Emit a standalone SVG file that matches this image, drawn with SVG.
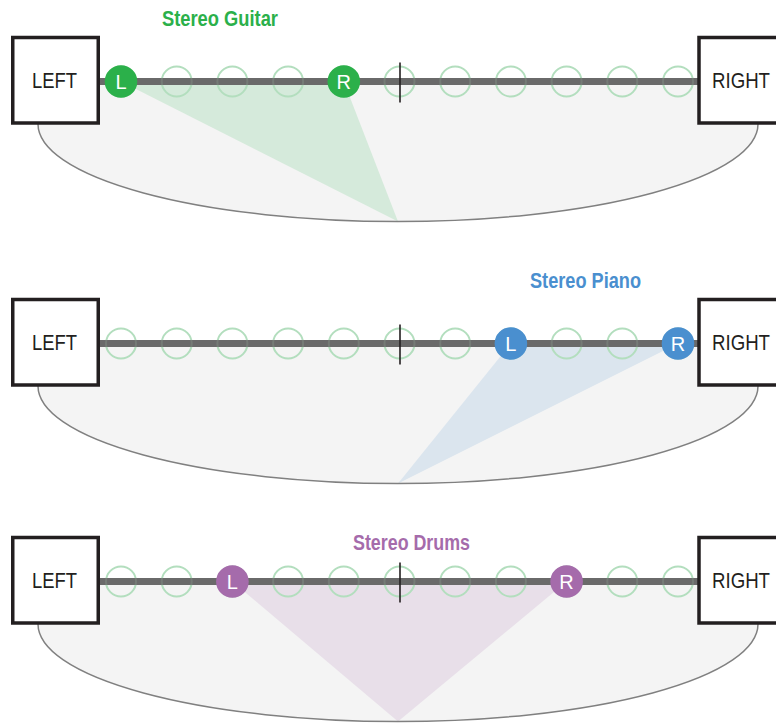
<svg xmlns="http://www.w3.org/2000/svg" xmlns:xlink="http://www.w3.org/1999/xlink" width="776" height="723" viewBox="0 0 776 723">
<style>
.bowl{fill:#f4f4f4;stroke:none}
.rim{fill:none;stroke:#808080;stroke-width:1.5}
.bar{stroke:#6a6a6a;stroke-width:7}
.slot{fill:none;stroke:#b3debe;stroke-width:2}
.tick{stroke:#231f20;stroke-width:1.6}
.box{fill:#fff;stroke:#231f20;stroke-width:3.5}
.boxtxt{font-family:"Liberation Sans",Arial,sans-serif;font-size:22px;fill:#231f20}
.title{font-family:"Liberation Sans",Arial,sans-serif;font-size:22px;font-weight:bold}
.dot{font-family:"Liberation Sans",Arial,sans-serif;font-size:20px;fill:#fff;text-anchor:middle}
.g{fill:#2bb04a}.b{fill:#4a8fcf}.p{fill:#a56bab}
</style>
<defs>
<g id="base">
<path class="bowl" d="M38,81 L758,81 L758,124 A360 97.5 0 0 1 38,124 Z"/>
</g>
<g id="rail">
<line class="bar" x1="98" y1="81.5" x2="700" y2="81.5"/>
<circle class="slot" cx="121" cy="81.5" r="15"/>
<circle class="slot" cx="176.7" cy="81.5" r="15"/>
<circle class="slot" cx="232.4" cy="81.5" r="15"/>
<circle class="slot" cx="288.1" cy="81.5" r="15"/>
<circle class="slot" cx="343.8" cy="81.5" r="15"/>
<circle class="slot" cx="399.5" cy="81.5" r="15"/>
<circle class="slot" cx="455.2" cy="81.5" r="15"/>
<circle class="slot" cx="510.9" cy="81.5" r="15"/>
<circle class="slot" cx="566.6" cy="81.5" r="15"/>
<circle class="slot" cx="622.3" cy="81.5" r="15"/>
<circle class="slot" cx="678" cy="81.5" r="15"/>
<line class="bar" x1="98" y1="81.5" x2="700" y2="81.5" stroke-opacity="0.85"/>
<line class="tick" x1="400" y1="62.5" x2="400" y2="102.5"/>
</g>
<path id="arc" class="rim" d="M38,124 A360 97.5 0 0 0 758,124"/>
</defs>

<!-- Panel 1: Stereo Guitar -->
<g id="panel-guitar">
<use xlink:href="#base"/>
<polygon points="121,81.5 343.8,81.5 398,221.5" fill="#d5eadb"/>
<use xlink:href="#arc"/>
<use xlink:href="#rail"/>
<g id="guitar-L"><circle class="g" cx="121" cy="81.5" r="16.3"/><text class="dot" x="121" y="88.8">L</text></g>
<g id="guitar-R"><circle class="g" cx="343.8" cy="81.5" r="16.3"/><text class="dot" x="343.8" y="88.8">R</text></g>
<g id="guitar-left"><rect class="box" x="12.75" y="37.5" width="85.5" height="85.5"/><text class="boxtxt" x="32" y="88" textLength="45" lengthAdjust="spacingAndGlyphs">LEFT</text></g>
<g id="guitar-right"><rect class="box" x="699" y="37.5" width="90" height="85.5"/><text class="boxtxt" x="712" y="88" textLength="58" lengthAdjust="spacingAndGlyphs">RIGHT</text></g>
<text class="title" x="162" y="26" fill="#2bb04a" textLength="116" lengthAdjust="spacingAndGlyphs">Stereo Guitar</text>
</g>

<!-- Panel 2: Stereo Piano -->
<g id="panel-piano" transform="translate(0,262)">
<use xlink:href="#base"/>
<polygon points="510.9,81.5 678,81.5 398,221.5" fill="#dbe5ee"/>
<use xlink:href="#arc"/>
<use xlink:href="#rail"/>
<g id="piano-L"><circle class="b" cx="510.9" cy="81.5" r="16.3"/><text class="dot" x="510.9" y="88.8">L</text></g>
<g id="piano-R"><circle class="b" cx="678" cy="81.5" r="16.3"/><text class="dot" x="678" y="88.8">R</text></g>
<g id="piano-left"><rect class="box" x="12.75" y="37.5" width="85.5" height="85.5"/><text class="boxtxt" x="32" y="88" textLength="45" lengthAdjust="spacingAndGlyphs">LEFT</text></g>
<g id="piano-right"><rect class="box" x="699" y="37.5" width="90" height="85.5"/><text class="boxtxt" x="712" y="88" textLength="58" lengthAdjust="spacingAndGlyphs">RIGHT</text></g>
<text class="title" x="530" y="26" fill="#4a8fcf" textLength="111" lengthAdjust="spacingAndGlyphs">Stereo Piano</text>
</g>

<!-- Panel 3: Stereo Drums -->
<g id="panel-drums" transform="translate(0,500)">
<use xlink:href="#base"/>
<polygon points="232.4,81.5 566.6,81.5 398,221.5" fill="#e8dfe9"/>
<use xlink:href="#arc"/>
<use xlink:href="#rail"/>
<g id="drums-L"><circle class="p" cx="232.4" cy="81.5" r="16.3"/><text class="dot" x="232.4" y="88.8">L</text></g>
<g id="drums-R"><circle class="p" cx="566.6" cy="81.5" r="16.3"/><text class="dot" x="566.6" y="88.8">R</text></g>
<g id="drums-left"><rect class="box" x="12.75" y="37.5" width="85.5" height="85.5"/><text class="boxtxt" x="32" y="88" textLength="45" lengthAdjust="spacingAndGlyphs">LEFT</text></g>
<g id="drums-right"><rect class="box" x="699" y="37.5" width="90" height="85.5"/><text class="boxtxt" x="712" y="88" textLength="58" lengthAdjust="spacingAndGlyphs">RIGHT</text></g>
<text class="title" x="353" y="50" fill="#a56bab" textLength="117" lengthAdjust="spacingAndGlyphs">Stereo Drums</text>
</g>
</svg>
